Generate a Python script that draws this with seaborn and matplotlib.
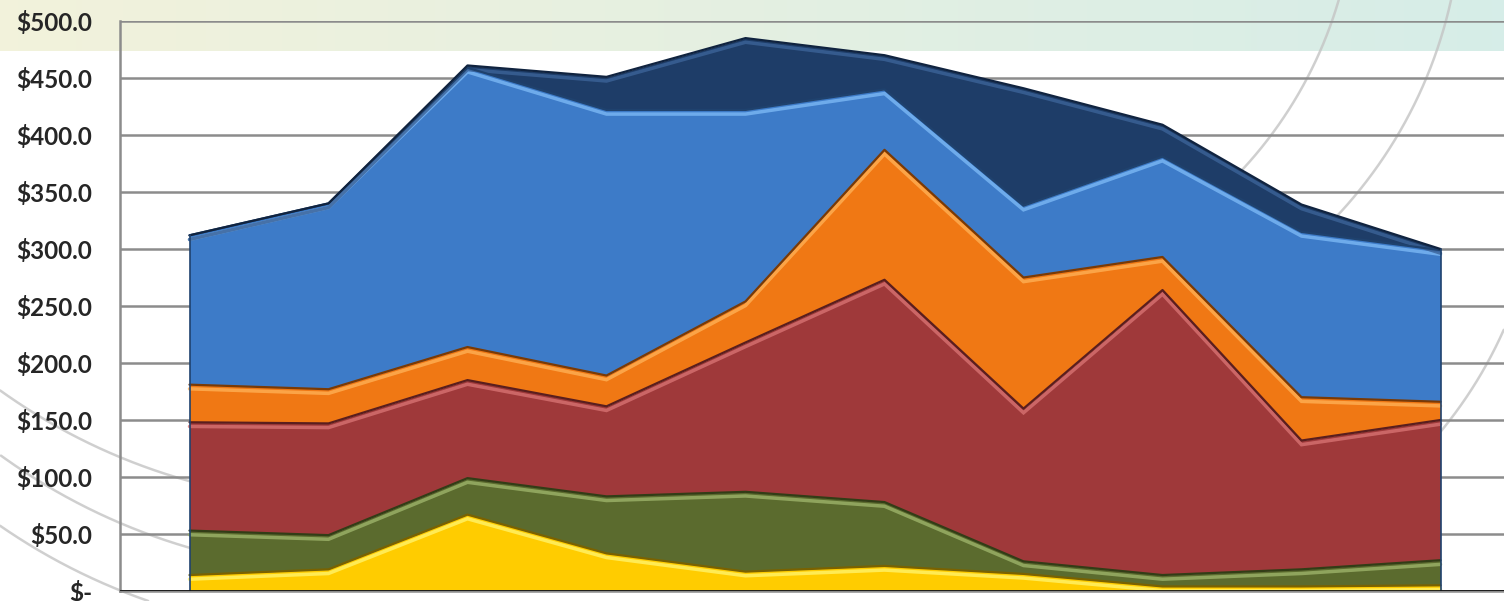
import numpy as np
import pandas as pd
import matplotlib
matplotlib.use('Agg')
import matplotlib.pyplot as plt
import matplotlib.transforms as mtransforms
import seaborn as sns

# ---- data (stacked values) ----
periods = ['P1', 'P2', 'P3', 'P4', 'P5', 'P6', 'P7', 'P8', 'P9', 'P10']
yellow = [14, 19, 67, 33, 17, 22, 15, 4, 4, 5]
green = [39, 30, 32, 50, 70, 56, 11, 10, 15, 22]
red = [95, 98, 86, 79, 131, 195, 134, 250, 113, 123]
orange = [33, 30, 29, 27, 36, 114, 115, 29, 38, 16]
blue = [131, 163, 245, 233, 168, 53, 63, 88, 145, 133]
navy = [0, 0, 2, 29, 63, 30, 103, 28, 24, 1]

series_names = ['Yellow', 'Green', 'Red', 'Orange', 'Blue', 'Navy']
series_vals = [yellow, green, red, orange, blue, navy]
fills = ['#FFCC00', '#5B6B2E', '#9F393A', '#F07814', '#3D7BC8', '#1E3D68']
edges = ['#7A6200', '#323D16', '#5A1E1E', '#7A3A05', '#1F426E', '#10233F']
shine = ['#FFF36A', '#9DB36A', '#D77272', '#FFB055', '#7BB8F5', '#3C6398']

yticks = [0, 50, 100, 150, 200, 250, 300, 350, 400, 450, 500]
ytick_labels = ['$-', '$50.0', '$100.0', '$150.0', '$200.0', '$250.0',
                '$300.0', '$350.0', '$400.0', '$450.0', '$500.0']

sns.set_style('white')
plt.rcParams['font.family'] = ['Lato', 'DejaVu Sans']

fig = plt.figure(figsize=(15.04, 6.01), dpi=100)
fig.patch.set_facecolor('white')

# ---- background: pale gradient band on top + faint arcs (pixel coords) ----
bg = fig.add_axes([0, 0, 1, 1], zorder=0)
grad = np.linspace(0, 1, 256)
c0 = np.array([0.95, 0.95, 0.86])
c1 = np.array([0.84, 0.93, 0.91])
band = (c0[None, :] * (1 - grad[:, None]) + c1[None, :] * grad[:, None])[None, :, :]
bg.imshow(band, extent=[0, 1504, 51, 0], aspect='auto')
ang = np.linspace(0, 2 * np.pi, 2880)
# circle centre, radius, and the x / y window the visible piece lives in
arcs = [(350, -97, 600, (0, 200), (350, 601)),
        (360, -40, 612, (0, 200), (350, 601)),
        (350, 20, 615, (0, 200), (350, 601)),
        (930, -120, 426, (1200, 1504), (0, 250)),
        (1000, -100, 462, (1280, 1504), (0, 300)),
        (1100, 150, 442, (1420, 1504), (320, 450))]
for cx, cy, r, xr, yr in arcs:
    ax_pts = cx + r * np.cos(ang)
    ay_pts = cy + r * np.sin(ang)
    keep = (ax_pts >= xr[0]) & (ax_pts <= xr[1]) & (ay_pts >= yr[0]) & (ay_pts <= yr[1])
    ax_pts = np.where(keep, ax_pts, np.nan)
    bg.plot(ax_pts, ay_pts, color='#C4C4C4', lw=1.8, alpha=0.8)
bg.set_xlim(0, 1504)
bg.set_ylim(601, 0)
bg.axis('off')

# ---- chart ----
ax = fig.add_axes([120 / 1504, 10 / 601, 1390 / 1504, 570 / 601], zorder=1)
ax.patch.set_alpha(0)
x = np.arange(len(periods))

df = pd.DataFrame({name: vals for name, vals in zip(series_names, series_vals)})
cum = df.cumsum(axis=1)

for yv in yticks:
    ax.axhline(yv, color='#8C8C8C', lw=1.8, zorder=1)

for i, name in enumerate(series_names):
    lower = cum[series_names[i - 1]] if i > 0 else np.zeros(len(x))
    upper = cum[name]
    ax.fill_between(x, lower, upper, color=fills[i], lw=0, zorder=2 + i * 0.1)

# highlight strip just below each top edge, then dark outline
shift = mtransforms.offset_copy(ax.transData, fig=fig, x=0, y=-3, units='points')
long_df = cum.assign(period=x).melt(id_vars='period', var_name='series', value_name='top')
for i, name in enumerate(series_names):
    sub = long_df[long_df['series'] == name]
    ax.plot(sub['period'], sub['top'], color=shine[i], lw=2.5, alpha=0.8,
            transform=shift, zorder=3 + i * 0.1, solid_joinstyle='miter')
sns.lineplot(data=long_df, x='period', y='top', hue='series', palette=dict(zip(series_names, edges)),
             lw=1.6, legend=False, ax=ax, zorder=4, sort=False)
ax.plot([x[0], x[0]], [0, cum.iloc[0, -1]], color='#1F426E', lw=1.2, zorder=4)
ax.plot([x[-1], x[-1]], [0, cum.iloc[-1, -1]], color='#1F426E', lw=1.2, zorder=4)
ax.axhline(0, color='#111111', lw=2, zorder=5)

ax.set_xlim(-0.5, len(periods) - 0.5)
ax.set_ylim(0, 500)
ax.set_yticks(yticks)
ax.set_yticklabels(ytick_labels, fontsize=17.5, fontweight='bold')
ax.set_xticks(np.arange(0.5, len(periods) - 0.5, 1))
ax.set_xticklabels([])
ax.set_xlabel('')
ax.set_ylabel('')
ax.tick_params(axis='y', length=6, width=1.8, color='#8C8C8C', pad=14)
ax.tick_params(axis='x', length=7, width=1.8, color='#8C8C8C', direction='out')
for side in ['top', 'right']:
    ax.spines[side].set_visible(False)
ax.spines['left'].set_color('#8C8C8C')
ax.spines['left'].set_linewidth(1.8)
ax.spines['bottom'].set_color('#8C8C8C')
ax.spines['bottom'].set_linewidth(1.8)

fig.savefig('out.png', dpi=100)
